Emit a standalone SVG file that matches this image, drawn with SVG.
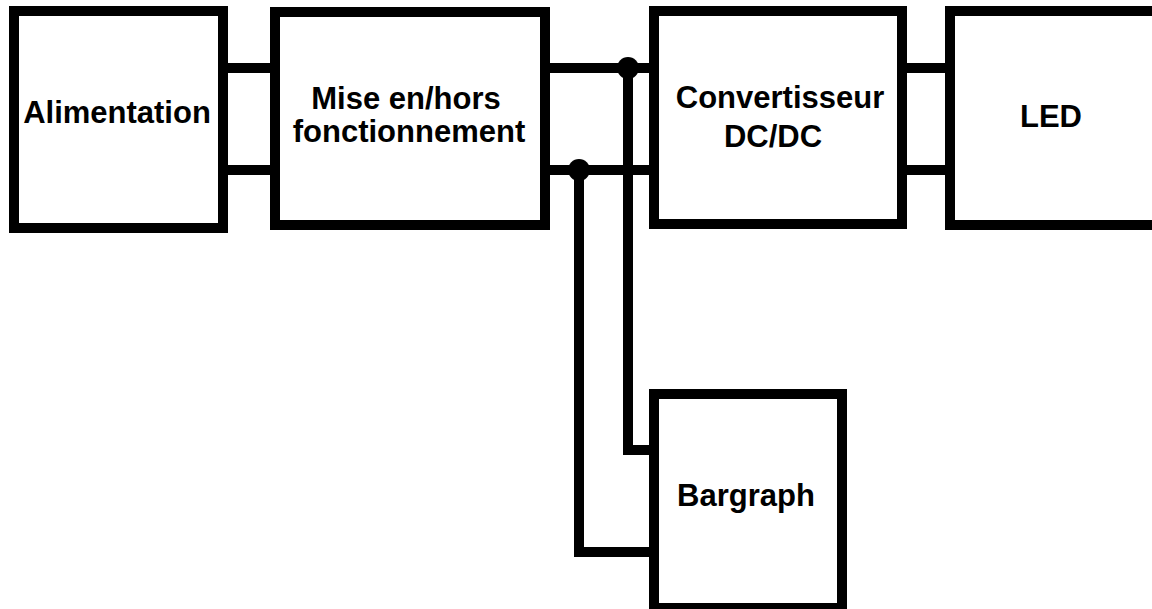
<svg xmlns="http://www.w3.org/2000/svg" width="1152" height="609" viewBox="0 0 1152 609">
<style>
.box{fill:#fff;stroke:#000;stroke-width:10}
.wire{fill:none;stroke:#000;stroke-width:10;stroke-linejoin:miter}
.dot{fill:#000}
.lbl{font-family:"Liberation Sans",Arial,sans-serif;font-weight:bold;font-size:31px;fill:#000;text-anchor:middle}
</style>
<rect width="1152" height="609" fill="#fff"/>
<g id="connectors">
<line class="wire" x1="223" y1="68" x2="275" y2="68"/>
<line class="wire" x1="223" y1="170" x2="275" y2="170"/>
<line class="wire" x1="545" y1="68" x2="654" y2="68"/>
<line class="wire" x1="545" y1="170" x2="654" y2="170"/>
<line class="wire" x1="902" y1="68" x2="950" y2="68"/>
<line class="wire" x1="902" y1="170" x2="950" y2="170"/>
<polyline class="wire" points="628,68 628,450 654,450"/>
<polyline class="wire" points="579,170 579,552 654,552"/>
<circle class="dot" cx="628" cy="68" r="11"/>
<circle class="dot" cx="579" cy="170" r="11"/>
</g>
<g id="alimentation">
<rect class="box" x="14" y="11" width="209" height="217"/>
<text class="lbl" x="117" y="123">Alimentation</text>
</g>
<g id="mise">
<rect class="box" x="275" y="12" width="270" height="213"/>
<text class="lbl" x="406" y="109">Mise en/hors</text>
<text class="lbl" x="409" y="142">fonctionnement</text>
</g>
<g id="convertisseur">
<rect class="box" x="654" y="11" width="248" height="213"/>
<text class="lbl" x="780" y="108">Convertisseur</text>
<text class="lbl" x="773" y="147">DC/DC</text>
</g>
<g id="led">
<rect class="box" x="950" y="11" width="220" height="214"/>
<text class="lbl" x="1051" y="127">LED</text>
</g>
<g id="bargraph">
<rect class="box" x="654" y="394" width="188" height="214"/>
<text class="lbl" x="746" y="506">Bargraph</text>
</g>
</svg>
